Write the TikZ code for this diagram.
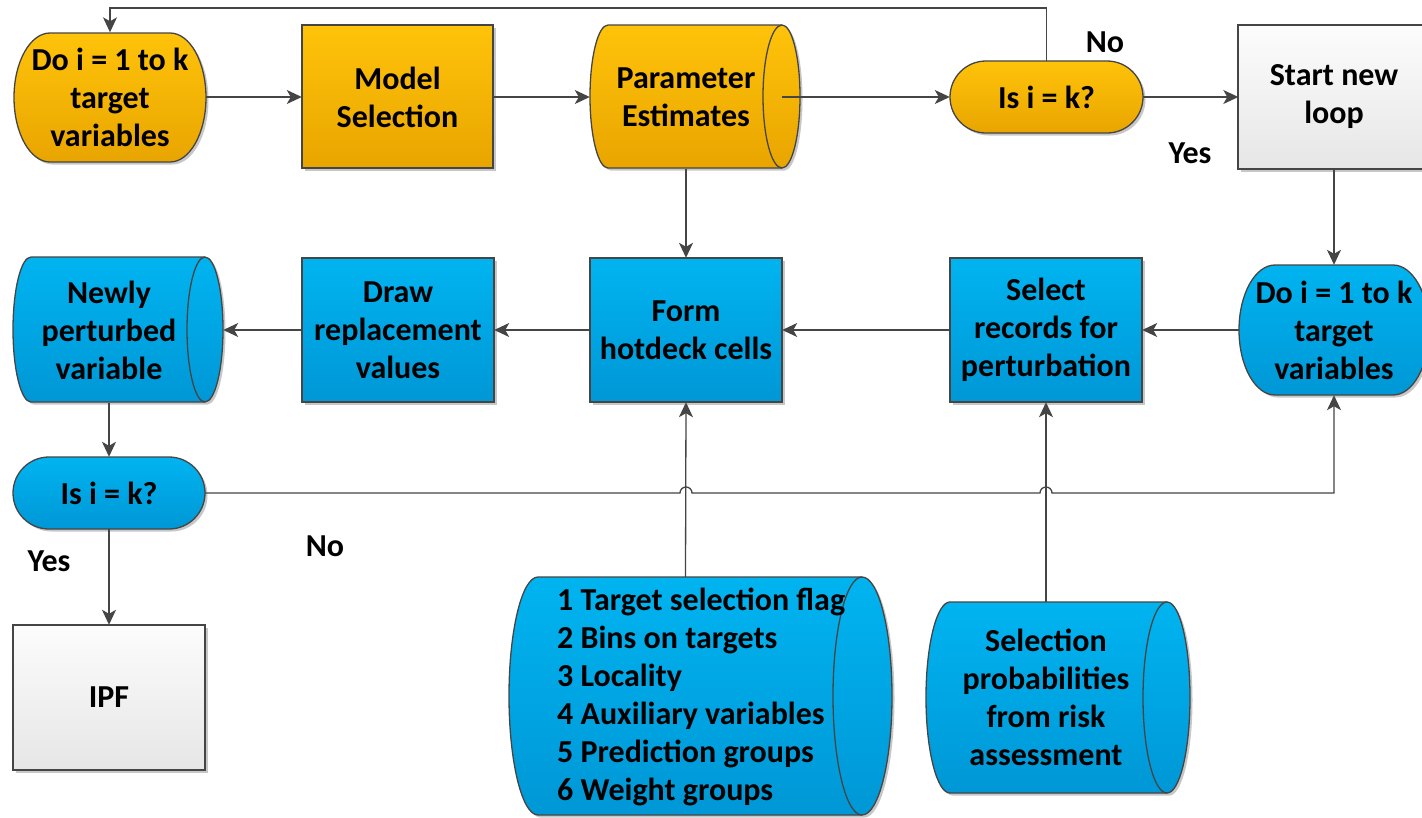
\documentclass[tikz,border=0pt]{standalone}
\usepackage{fontspec}
\setmainfont{Carlito}
\usetikzlibrary{arrows.meta,shadows,calc}
\definecolor{lineC}{HTML}{454545}
\definecolor{orT}{HTML}{FFC30A}
\definecolor{orB}{HTML}{E9A500}
\definecolor{blT}{HTML}{00B4F0}
\definecolor{blB}{HTML}{0097D6}
\definecolor{grT}{HTML}{FCFCFC}
\definecolor{grB}{HTML}{E6E6E6}
\tikzset{
  txt/.style={font=\fontsize{32}{38}\selectfont\bfseries, align=center, inner sep=0pt, text=black},
  shp/.style={draw=lineC, line width=1.3pt},
  shd/.style={drop shadow={shadow xshift=2.5pt, shadow yshift=-2.5pt, opacity=0.22, fill=black}},
  orangef/.style={shp, shd, top color=orT, bottom color=orB},
  bluef/.style={shp, shd, top color=blT, bottom color=blB},
  grayf/.style={shp, shd, top color=grT, bottom color=grB},
  conn/.style={draw=lineC, line width=1.3pt},
  arr/.style={conn, -{Stealth[length=15pt,width=14pt,inset=4pt]}},
  lbl/.style={font=\fontsize{32}{38}\selectfont\bfseries, inner sep=0pt},
}
\begin{document}
\begin{tikzpicture}[x=1pt,y=-1pt]
\useasboundingbox (0,0) rectangle (1422,817);
\clip (0,0) rectangle (1422,817);
\fill[white] (0,0) rectangle (1422,817);

% ---------- shapes ----------
% Do i = 1 to k (orange terminator) L14 R206 T33 B162
\path[orangef] (50,33) -- (170,33) arc[start angle=90,end angle=-90,x radius=36pt,y radius=64.5pt]
  -- (50,162) arc[start angle=270,end angle=90,x radius=36pt,y radius=64.5pt] -- cycle;
% Model Selection
\path[orangef] (302,25) rectangle (493,168);
% Parameter Estimates (stored data) L590 R782 T25 B168
\path[orangef] (608,25) -- (782,25) arc[start angle=90,end angle=-90,x radius=18pt,y radius=71.5pt]
  -- (608,168) arc[start angle=270,end angle=90,x radius=18pt,y radius=71.5pt] -- cycle;
\draw[shp] (782,25) arc[start angle=90,end angle=270,x radius=19pt,y radius=71.5pt];
% Is i = k (orange) L950 R1143 T61 B133
\path[orangef] (986,61) -- (1107,61) arc[start angle=90,end angle=-90,x radius=36pt,y radius=36pt]
  -- (986,133) arc[start angle=270,end angle=90,x radius=36pt,y radius=36pt] -- cycle;
% Start new loop
\path[grayf] (1238,25) rectangle (1429,169);

% Do i = 1 to k (blue) L1239 R1429 T265 B395
\path[bluef] (1275,265) -- (1393,265) arc[start angle=90,end angle=-90,x radius=36pt,y radius=65pt]
  -- (1275,395) arc[start angle=270,end angle=90,x radius=36pt,y radius=65pt] -- cycle;
% Select records
\path[bluef] (950,258) rectangle (1142,402);
% Form hotdeck cells
\path[bluef] (590,258) rectangle (782,402);
% Draw replacement values
\path[bluef] (302,258) rectangle (494,402);
% Newly perturbed variable (stored data) L13 R205 T257 B402
\path[bluef] (31,257) -- (205,257) arc[start angle=90,end angle=-90,x radius=18pt,y radius=72.5pt]
  -- (31,402) arc[start angle=270,end angle=90,x radius=18pt,y radius=72.5pt] -- cycle;
\draw[shp] (205,257) arc[start angle=90,end angle=270,x radius=18pt,y radius=72.5pt];
% Is i = k (blue) L13 R205 T457 B529
\path[bluef] (49,457) -- (169,457) arc[start angle=90,end angle=-90,x radius=36pt,y radius=36pt]
  -- (49,529) arc[start angle=270,end angle=90,x radius=36pt,y radius=36pt] -- cycle;
% IPF
\path[grayf] (13,625) rectangle (205,770);
% Data list (stored data) L509 R862 T577 B815
\path[bluef] (538,577) -- (862,577) arc[start angle=90,end angle=-90,x radius=30pt,y radius=119pt]
  -- (538,815) arc[start angle=270,end angle=90,x radius=29pt,y radius=119pt] -- cycle;
\draw[shp] (862,577) arc[start angle=90,end angle=270,x radius=29pt,y radius=119pt];
% Selection probabilities (stored data) L926 R1167 T602 B793
\path[bluef] (950,602) -- (1167,602) arc[start angle=90,end angle=-90,x radius=23pt,y radius=95.5pt]
  -- (950,793) arc[start angle=270,end angle=90,x radius=24pt,y radius=95.5pt] -- cycle;
\draw[shp] (1167,602) arc[start angle=90,end angle=270,x radius=24pt,y radius=95.5pt];

% ---------- nodes ----------
\node[txt, minimum width=192pt, minimum height=129pt] (do1) at (110,97) {Do i = 1 to k\\target\\variables};
\node[txt, minimum width=191pt, minimum height=143pt] (ms) at (397.5,97) {Model\\Selection};
\node[txt, minimum width=192pt, minimum height=143pt] (pe) at (686,97) {Parameter\\Estimates};
\node[txt, minimum width=193pt, minimum height=72pt] (isk1) at (1046.5,97) {Is i = k?};
\node[txt, minimum width=191pt, minimum height=144pt] (snl) at (1334,97) {Start new\\loop};
\node[txt, minimum width=190pt, minimum height=130pt] (dob) at (1334,330) {Do i = 1 to k\\target\\variables};
\node[txt, minimum width=192pt, minimum height=144pt] (sel) at (1046,330) {Select\\records for\\perturbation};
\node[txt, minimum width=192pt, minimum height=144pt] (form) at (686,330) {Form\\hotdeck cells};
\node[txt, minimum width=192pt, minimum height=144pt] (drv) at (398,330) {Draw\\replacement\\values};
\node[txt, minimum width=192pt, minimum height=145pt] (np) at (109,330) {Newly\\perturbed\\variable};
\node[txt, minimum width=192pt, minimum height=72pt] (isk2) at (109,493) {Is i = k?};
\node[txt, minimum width=192pt, minimum height=145pt] (ipf) at (109,697.5) {IPF};
\node[txt, minimum width=353pt, minimum height=238pt] (data1) at (685.5,696) {};
\node[txt, align=left, anchor=west] (data1t) at (557,697) {1 Target selection flag\\2 Bins on targets\\3 Locality\\4 Auxiliary variables\\5 Prediction groups\\6 Weight groups};
\node[txt, minimum width=241pt, minimum height=191pt] (selp) at (1046,697.5) {Selection\\probabilities\\from risk\\assessment};

% labels
\node[lbl] (no1) at (1105,42) {No};
\node[lbl] (yes1) at (1190,153) {Yes};
\node[lbl] (no2) at (325,546) {No};
\node[lbl] (yes2) at (49,561) {Yes};

% ---------- connectors ----------
\coordinate (topy) at (0,8);
\coordinate (peR) at (782,97);
\draw[arr] (do1.east) -- (ms.west);
\draw[arr] (ms.east) -- (pe.west);
\draw[arr] (peR) -- (isk1.west);
\draw[arr] (isk1.east) -- (snl.west);
\draw[arr] (isk1.north) -- (isk1.north |- topy) -| (do1.north);
\draw[arr] (snl.south) -- (dob.north);
\draw[arr] (dob.west) -- (sel.east);
\draw[arr] (sel.west) -- (form.east);
\draw[arr] (form.west) -- (drv.east);
\draw[arr] (drv.west) -- ($(np.east)+(18,0)$);
\draw[arr] (pe.south) -- (form.north);
\draw[arr] (np.south) -- (isk2.north);
\draw[arr] (isk2.south) -- (ipf.north);
\draw[arr] (data1.north) -- (form.south);
\draw[arr] (selp.north) -- (sel.south);
\coordinate (h1) at (form.south |- isk2.east);
\coordinate (h2) at (sel.south |- isk2.east);
\draw[arr] (isk2.east) -- ($(h1)+(-6,0)$) arc[start angle=180,end angle=0,radius=6pt]
  -- ($(h2)+(-6,0)$) arc[start angle=180,end angle=0,radius=6pt] -| (dob.south);
\end{tikzpicture}
\end{document}
